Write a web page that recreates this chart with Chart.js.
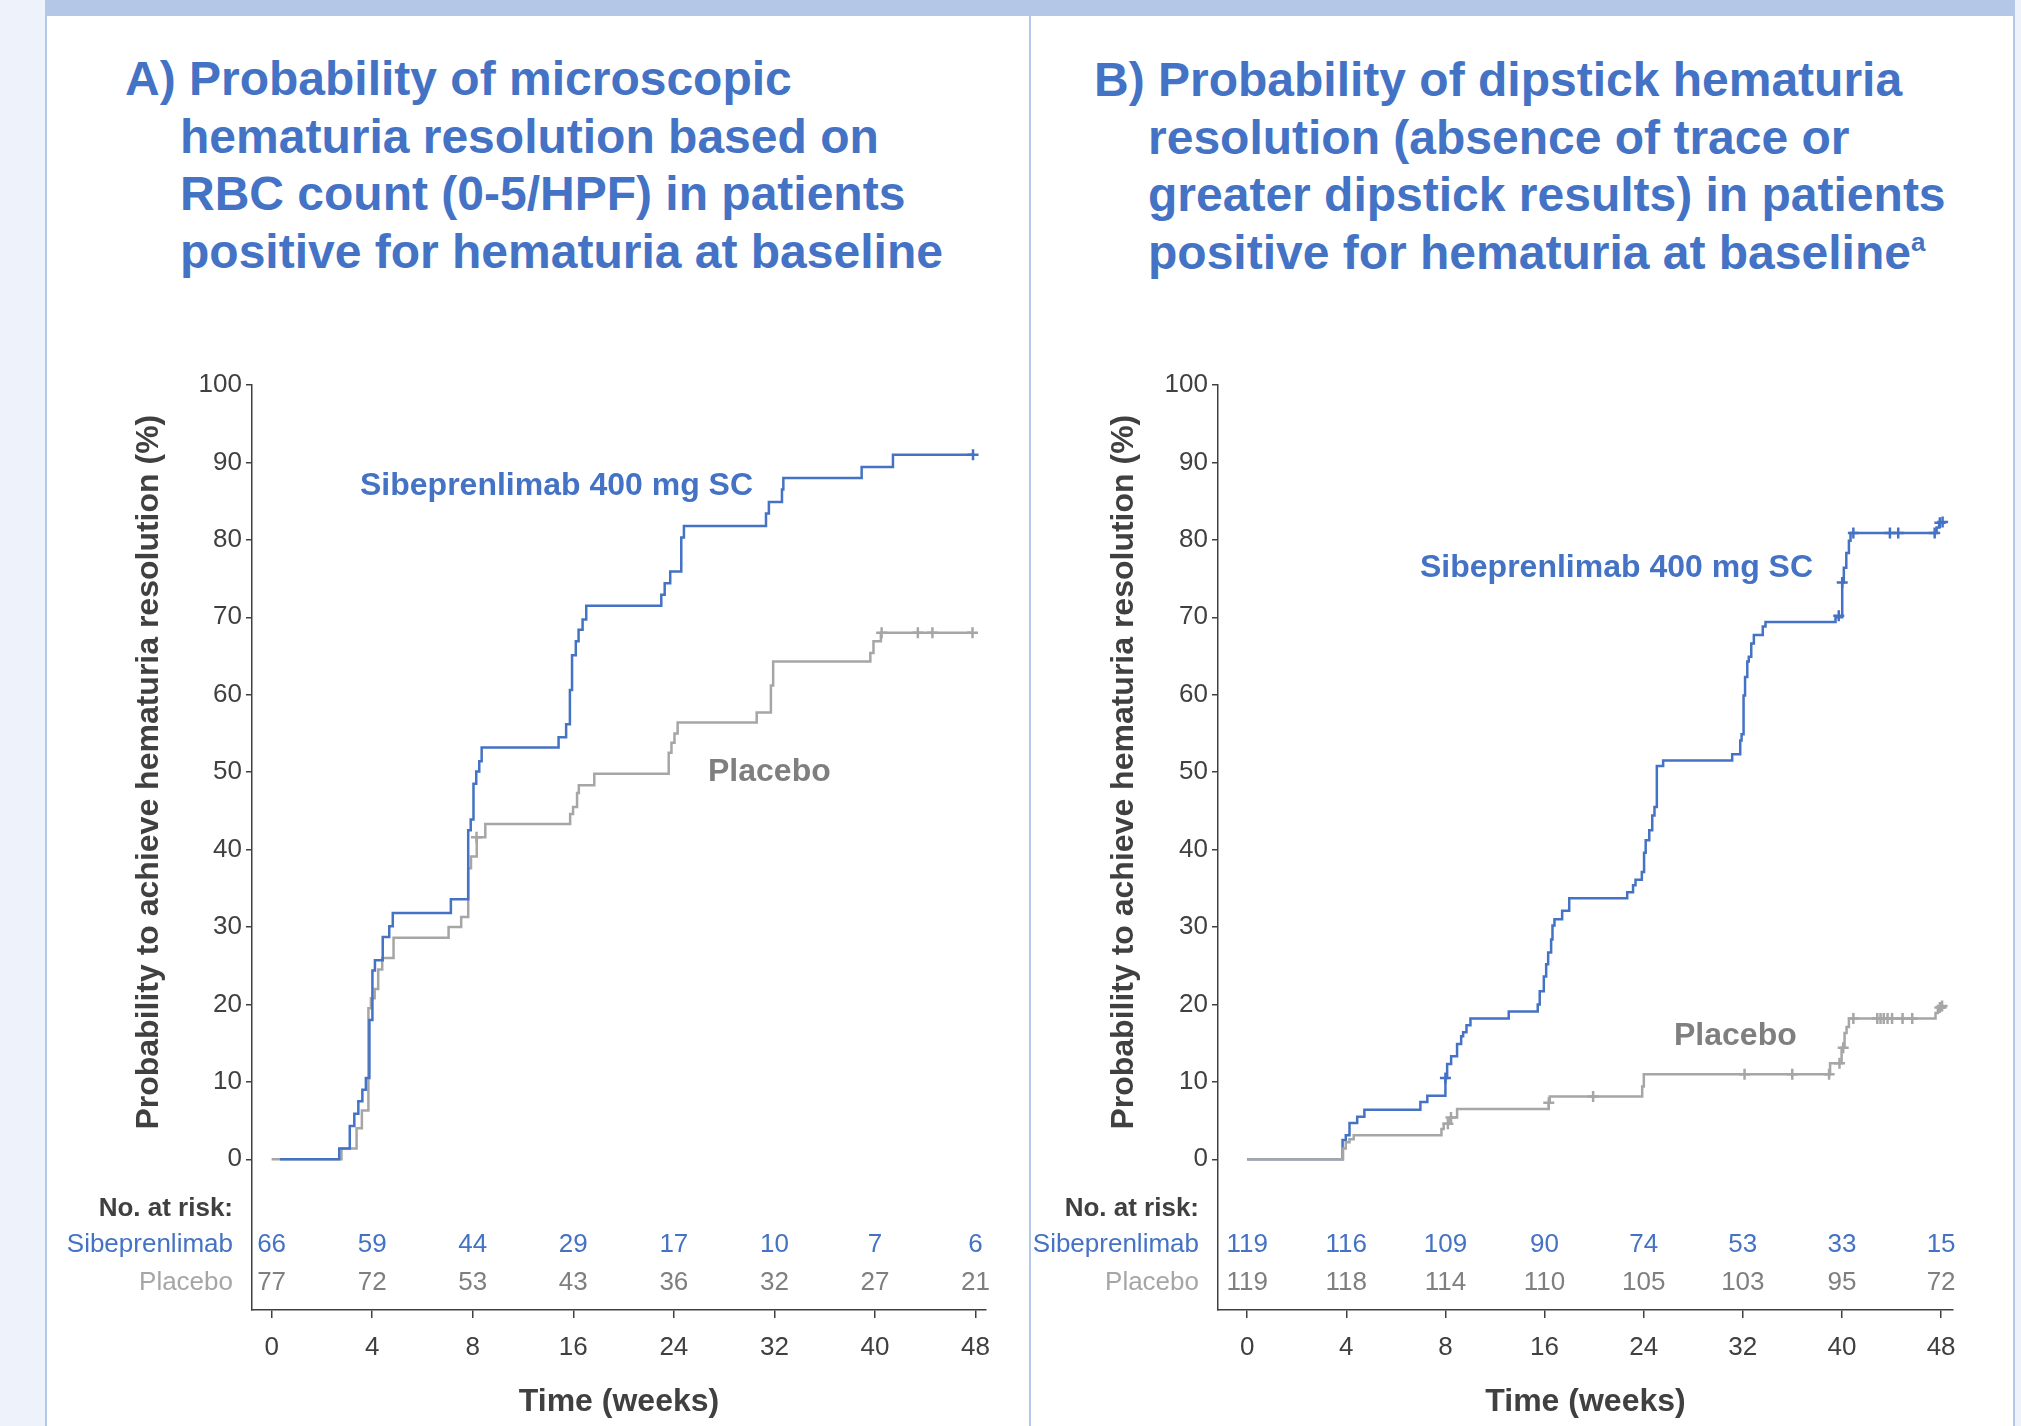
<!DOCTYPE html>
<html lang="en">
<head>
<meta charset="UTF-8">
<title>Hematuria resolution</title>
<style>
    html, body { margin: 0; padding: 0; }
    body {
        width: 2021px; height: 1426px; position: relative; overflow: hidden;
        background: #eef3fb;
        font-family: Arial, "Liberation Sans", sans-serif;
    }
    #topbar { position: absolute; left: 45px; top: 0; width: 1970px; height: 16px; background: #b4c7e7; }
    .panel { position: absolute; top: 16px; height: 1410px; background: #fff; border-left: 2px solid #b4c7e7; }
    #panelA { left: 45px; width: 982px; }
    #panelB { left: 1029px; width: 982px; border-right: 2px solid #b4c7e7; }
    .title {
        position: absolute; color: #4472c4; font-weight: bold;
        font-size: 48px; line-height: 57.5px; white-space: nowrap;
    }
    .title .cont { padding-left: 55px; }
    .title sup { font-size: 26px; line-height: 0; vertical-align: 0; position: relative; top: -18px; }
    canvas { position: absolute; }
</style>
</head>
<body>
<div id="topbar"></div>
<div class="panel" id="panelA"></div>
<div class="panel" id="panelB"></div>

<div class="title" style="left:125px; top:50px;">
    <div>A) Probability of microscopic</div>
    <div class="cont">hematuria resolution based on</div>
    <div class="cont">RBC count (0-5/HPF) in patients</div>
    <div class="cont">positive for hematuria at baseline</div>
</div>
<div class="title" style="left:1094px; top:51px;">
    <div>B) Probability of dipstick hematuria</div>
    <div class="cont" style="padding-left:54px">resolution (absence of trace or</div>
    <div class="cont" style="padding-left:54px">greater dipstick results) in patients</div>
    <div class="cont" style="padding-left:54px">positive for hematuria at baseline<sup>a</sup></div>
</div>

<canvas id="chartA" width="980" height="1126" style="left:47px; top:300px; width:980px; height:1126px;"></canvas>
<canvas id="chartB" width="975" height="1126" style="left:1032px; top:300px; width:975px; height:1126px;"></canvas>

<script src="https://cdn.jsdelivr.net/npm/chart.js"></script>
<script>
    // tick labels (weeks) - axis is spaced by visit, not linear in weeks
    const weekTicks = [0, 4, 8, 16, 24, 32, 40, 48];
    const yTicks = [0, 10, 20, 30, 40, 50, 60, 70, 80, 90, 100];

    // ---- A) microscopic hematuria, KM steps (weeks, %) ----
    const aSibWeeks = [0.33, 2.69, 3.11, 3.29, 3.45, 3.61, 3.75, 3.89, 4.01, 4.11, 4.42, 4.68, 4.82, 7.13, 7.82, 7.92,
        8.06, 8.28, 8.52, 8.71, 14.83, 15.43, 15.73, 15.90, 16.20, 16.42, 16.74, 17.03, 23.0, 23.27, 23.71, 24.59,
        24.8, 31.33, 31.56, 32.6, 32.71, 38.94, 41.43, 47.8];
    const aSibPct = [0, 1.4, 4.3, 5.9, 7.5, 9.0, 10.5, 18.0, 24.4, 25.7, 28.7, 30.1, 31.8, 33.6, 42.5, 43.9,
        48.5, 50.1, 51.4, 53.2, 54.5, 56.2, 60.6, 65.1, 66.9, 68.4, 69.7, 71.5, 72.9, 74.4, 75.9, 80.3,
        81.8, 83.4, 84.9, 86.5, 88.0, 89.4, 91.0, 91.0];
    const aPboWeeks = [0, 2.78, 3.38, 3.59, 3.85, 3.95, 4.10, 4.24, 4.40, 4.85, 7.04, 7.54, 7.82, 7.93, 8.32, 9.0,
        15.75, 15.98, 16.30, 16.44, 17.67, 23.59, 23.81, 24.05, 24.3, 30.59, 31.72, 31.9, 39.63, 39.88, 40.47, 47.8];
    const aPboPct = [0, 1.4, 4.0, 6.3, 19.5, 20.8, 22.0, 24.5, 26.0, 28.6, 30.0, 31.3, 37.6, 39.1, 41.6, 43.3,
        44.6, 45.5, 47.3, 48.3, 49.8, 52.5, 53.8, 55.0, 56.4, 57.7, 61.2, 64.3, 65.4, 66.9, 68.0, 68.0];
    const aSibCensWeeks = [47.8];
    const aSibCensPct = [91.0];
    const aPboCensWeeks = [8.3, 40.53, 43.41, 44.57, 47.76];
    const aPboCensPct = [41.6, 68.0, 68.0, 68.0, 68.0];
    const aRiskSib = [66, 59, 44, 29, 17, 10, 7, 6];
    const aRiskPbo = [77, 72, 53, 43, 36, 32, 27, 21];

    // ---- B) dipstick hematuria ----
    const bSibWeeks = [0, 3.85, 3.98, 4.13, 4.44, 4.73, 6.99, 7.27, 8.0, 8.14, 8.46, 8.94, 9.27, 9.43, 9.70, 10.02,
        13.11, 15.45, 15.61, 15.94, 16.13, 16.29, 16.53, 16.64, 16.80, 17.42, 17.99, 22.67, 23.14, 23.34, 23.85,
        24.03, 24.16, 24.45, 24.69, 24.87, 25.06, 25.57, 31.14, 31.79, 31.90, 32.06, 32.18, 32.36, 32.48, 32.68,
        32.89, 33.61, 33.83, 39.48, 40.02, 40.15, 40.35, 40.56, 40.69, 47.64, 47.84, 48.36];
    const bSibPct = [0, 2.5, 3.1, 4.7, 5.5, 6.4, 7.4, 8.2, 10.5, 12.3, 13.3, 14.9, 15.9, 16.4, 17.3, 18.2,
        19.1, 20.0, 21.7, 23.6, 25.2, 26.7, 28.4, 30.2, 31.0, 32.1, 33.7, 34.5, 35.4, 36.1, 37.1,
        39.6, 41.2, 42.5, 44.4, 45.5, 50.8, 51.5, 52.3, 54.1, 54.9, 59.9, 62.3, 64.3, 64.9, 66.6,
        67.7, 68.8, 69.4, 70.0, 74.5, 76.4, 78.3, 79.9, 80.9, 81.6, 82.2, 82.2];
    const bPboWeeks = [0, 3.87, 3.98, 4.13, 4.30, 7.84, 7.93, 8.40, 8.94, 16.34, 16.42, 23.88, 24.01, 39.04, 39.97,
        40.21, 40.37, 40.56, 47.55, 47.74, 48.44];
    const bPboPct = [0, 1.4, 2.2, 2.6, 3.1, 3.9, 4.6, 5.4, 6.5, 7.3, 8.1, 9.4, 11.0, 12.4, 14.4,
        16.3, 17.1, 18.2, 18.9, 19.6, 19.6];
    const bSibCensWeeks = [8.0, 39.74, 40.02, 40.92, 43.87, 44.54, 47.48, 47.90, 48.12];
    const bSibCensPct = [10.5, 70.2, 74.5, 80.9, 80.9, 80.9, 80.9, 82.2, 82.3];
    const bPboCensWeeks = [8.2, 8.45, 16.34, 19.92, 32.14, 35.99, 38.96, 39.8, 40.1, 40.92, 42.85, 43.11, 43.37,
        43.68, 44.04, 44.89, 45.67, 47.90, 48.08];
    const bPboCensPct = [4.6, 5.4, 7.3, 8.1, 11.0, 11.0, 11.0, 12.4, 14.4, 18.2, 18.2, 18.2, 18.2,
        18.2, 18.2, 18.2, 18.2, 19.6, 19.8];
    const bRiskSib = [119, 116, 109, 90, 74, 53, 33, 15];
    const bRiskPbo = [119, 118, 114, 110, 105, 103, 95, 72];

    const BLUE = '#4472c4';
    const GREY = '#a6a6a6';
    const MID = '#7f7f7f';
    const DARK = '#404040';
    const FONT = 'Arial, "Liberation Sans", sans-serif';
    Chart.defaults.font.family = FONT;

    // weeks -> axis position (one unit per visit interval)
    function wkPos(w) {
        for (let i = 1; i < weekTicks.length; i++) {
            if (w <= weekTicks[i] || i === weekTicks.length - 1) {
                const a = weekTicks[i - 1], b = weekTicks[i];
                return i - 1 + (w - a) / (b - a);
            }
        }
    }

    function pts(weeks, pct) {
        return weeks.map((w, i) => ({x: wkPos(w), y: pct[i]}));
    }

    function makePanel(id, p) {
        const curve = (w, v, color, order) => ({
            data: pts(w, v), borderColor: color, borderWidth: 2.5, stepped: true,
            pointRadius: 0, fill: false, order: order
        });
        const cens = (w, v, color) => ({
            data: pts(w, v), showLine: false, pointStyle: 'cross', pointRadius: 5.5,
            pointBorderWidth: 2.5, pointBorderColor: color, pointBackgroundColor: color, order: -1
        });

        const extras = {
            id: 'extras',
            afterDraw(chart) {
                const ctx = chart.ctx;
                const area = chart.chartArea;
                const xs = chart.scales.x, ys = chart.scales.y;
                ctx.save();

                // y axis title, centred on the 0-100 range
                ctx.translate(area.left + p.yTitleDx, ys.getPixelForValue(50));
                ctx.rotate(-Math.PI / 2);
                ctx.font = 'bold 32px ' + FONT;
                ctx.fillStyle = DARK;
                ctx.textAlign = 'center';
                ctx.textBaseline = 'middle';
                ctx.fillText('Probability to achieve hematuria resolution (%)', 0, 0);
                ctx.setTransform(1, 0, 0, 1, 0, 0);

                // curve labels
                ctx.textAlign = 'left';
                ctx.textBaseline = 'alphabetic';
                ctx.font = 'bold 32px ' + FONT;
                ctx.fillStyle = BLUE;
                ctx.fillText('Sibeprenlimab 400 mg SC', area.left + p.sibLab[0], area.top + p.sibLab[1]);
                ctx.fillStyle = MID;
                ctx.fillText('Placebo', area.left + p.pboLab[0], area.top + p.pboLab[1]);

                // number at risk table
                ctx.textBaseline = 'middle';
                ctx.textAlign = 'right';
                const lx = area.left - 19;
                ctx.font = 'bold 26px ' + FONT;
                ctx.fillStyle = DARK;
                ctx.fillText('No. at risk:', lx, area.bottom - 101);
                ctx.font = '26px ' + FONT;
                ctx.fillStyle = BLUE;
                ctx.fillText('Sibeprenlimab', lx, area.bottom - 65);
                ctx.fillStyle = GREY;
                ctx.fillText('Placebo', lx, area.bottom - 27);
                ctx.textAlign = 'center';
                weekTicks.forEach((w, i) => {
                    const x = xs.getPixelForValue(i);
                    ctx.fillStyle = BLUE;
                    ctx.fillText(String(p.riskSib[i]), x, area.bottom - 65);
                    ctx.fillStyle = MID;
                    ctx.fillText(String(p.riskPbo[i]), x, area.bottom - 27);
                });
                ctx.restore();
            }
        };

        return new Chart(document.getElementById(id), {
            type: 'line',
            data: {
                datasets: [
                    curve(p.sibW, p.sibP, BLUE, p.sibOrder),
                    curve(p.pboW, p.pboP, GREY, p.pboOrder),
                    cens(p.sibCW, p.sibCP, BLUE),
                    cens(p.pboCW, p.pboCP, GREY)
                ]
            },
            options: {
                responsive: false,
                animation: false,
                devicePixelRatio: 1,
                layout: {padding: {left: 0, right: p.padRight, top: 85, bottom: 0}},
                plugins: {legend: {display: false}, tooltip: {enabled: false}},
                scales: {
                    x: {
                        type: 'linear',
                        min: p.xMin, max: p.xMax,
                        afterBuildTicks: (s) => { s.ticks = weekTicks.map((w, i) => ({value: i})); },
                        afterFit: (s) => { s.height = 116; },
                        ticks: {
                            callback: (v) => weekTicks[Math.round(v)],
                            color: DARK, font: {size: 26}, padding: 14, maxRotation: 0
                        },
                        grid: {drawOnChartArea: false, tickLength: 8, color: DARK, lineWidth: 1.5},
                        border: {display: true, color: DARK, width: 1.5},
                        title: {
                            display: true, text: 'Time (weeks)', color: DARK,
                            font: {size: 32, weight: 'bold'}, padding: {top: 0, bottom: 5}
                        }
                    },
                    y: {
                        min: -19.46, max: 100,
                        afterBuildTicks: (s) => { s.ticks = yTicks.map(v => ({value: v})); },
                        afterFit: (s) => { s.width = p.yWidth; },
                        ticks: {color: DARK, font: {size: 26}, padding: 4},
                        grid: {drawOnChartArea: false, tickLength: 6, color: DARK, lineWidth: 1.5},
                        border: {display: true, color: DARK, width: 1.5}
                    }
                }
            },
            plugins: [extras]
        });
    }

    makePanel('chartA', {
        sibW: aSibWeeks, sibP: aSibPct, pboW: aPboWeeks, pboP: aPboPct,
        sibCW: aSibCensWeeks, sibCP: aSibCensPct, pboCW: aPboCensWeeks, pboCP: aPboCensPct,
        riskSib: aRiskSib, riskPbo: aRiskPbo,
        sibOrder: 0, pboOrder: 1,
        xMin: -0.195, xMax: 7.104, yWidth: 205, padRight: 41,
        yTitleDx: -103, sibLab: [108, 110], pboLab: [456, 396]
    });

    makePanel('chartB', {
        sibW: bSibWeeks, sibP: bSibPct, pboW: bPboWeeks, pboP: bPboPct,
        sibCW: bSibCensWeeks, sibCP: bSibCensPct, pboCW: bPboCensWeeks, pboCP: bPboCensPct,
        riskSib: bRiskSib, riskPbo: bRiskPbo,
        sibOrder: 1, pboOrder: 0,
        xMin: -0.294, xMax: 7.12, yWidth: 186, padRight: 54,
        yTitleDx: -94, sibLab: [202, 192], pboLab: [456, 660]
    });
</script>
</body>
</html>
